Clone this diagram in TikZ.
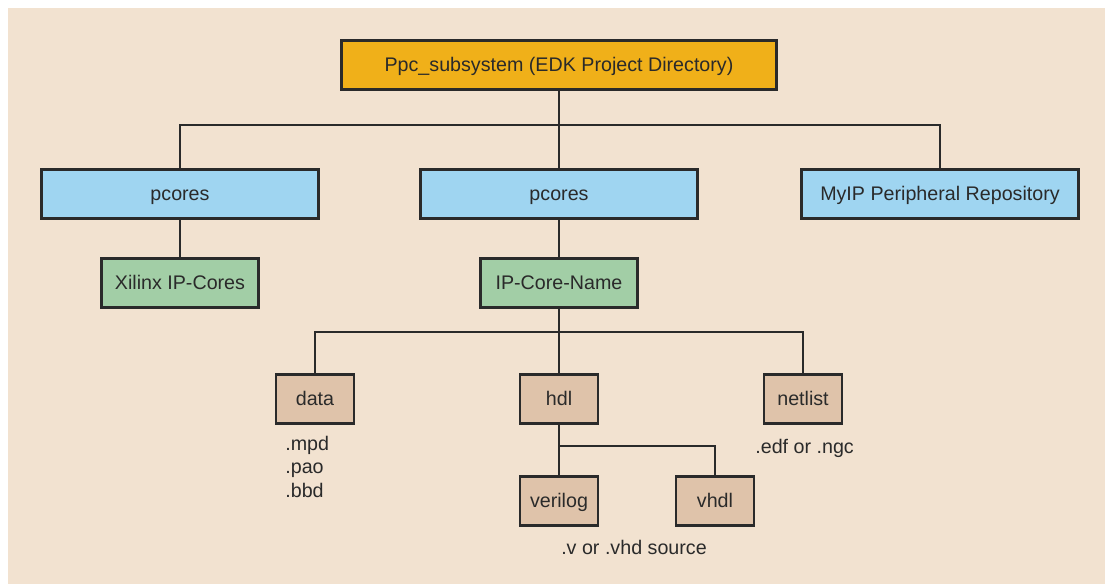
\documentclass[tikz,border=0pt]{standalone}
\usepackage{fontspec}
\setmainfont{Liberation Sans}
\definecolor{bgbeige}{HTML}{F2E2D0}
\definecolor{rootgold}{HTML}{F0B019}
\definecolor{dirblue}{HTML}{9FD5F1}
\definecolor{coregreen}{HTML}{A2CEA6}
\definecolor{filetan}{HTML}{DFC3AA}
\definecolor{inkgray}{HTML}{2A2A2A}
\tikzset{
    dirbox/.style={draw=inkgray,line width=1.5pt,text=inkgray,inner sep=0pt,
        minimum height=0.98cm,text height=7.9pt,text depth=0pt,
        font=\fontsize{11.2}{13}\selectfont},
    rootdir/.style={dirbox,fill=rootgold,minimum width=8.7cm},
    topdir/.style={dirbox,fill=dirblue,minimum width=5.55cm},
    coredir/.style={dirbox,fill=coregreen,minimum width=3.15cm},
    subdir/.style={dirbox,fill=filetan,minimum width=1.56cm},
    branch/.style={draw=inkgray,line width=1.4pt},
    extnote/.style={text=inkgray,inner sep=0pt,font=\fontsize{11.2}{13.1}\selectfont}
}
\begin{document}
\begin{tikzpicture}[x=0.02cm,y=-0.02cm]
        %% page
        \useasboundingbox (0,0) rectangle (1105,584);
        \fill[bgbeige] (8,8) rectangle (1105,584);
        %% top level
        \node[rootdir] (root) at (559,65) {Ppc\_subsystem (EDK Project Directory)};
        \node[topdir] (pcoresL) at (180,194) {pcores};
        \node[topdir] (pcoresM) at (559,194) {pcores};
        \node[topdir] (myip) at (940,194) {MyIP Peripheral Repository};
        \node[coredir] (xilinx) at (180,283) {Xilinx IP-Cores};
        \node[coredir] (ipname) at (559,283) {IP-Core-Name};
        %% core sub folders
        \node[subdir] (data) at (315,399) {data};
        \node[subdir] (hdl) at (559,399) {hdl};
        \node[subdir] (netlist) at (803,399) {netlist};
        \node[subdir] (verilog) at (559,501) {verilog};
        \node[subdir] (vhdl) at (715,501) {vhdl};
        %% file types (base = last line)
        \node[extnote,anchor=base west,align=left] (datafiles) at (285,497)
            {.mpd\\.pao\\.bbd};
        \node[extnote,anchor=base west] (netfiles) at (755,453) {.edf or .ngc};
        \node[extnote,anchor=base] (srcfiles) at (634,554) {.v or .vhd source};
        %% branches
        \coordinate (hdlsplit) at (559,446);
        \draw[branch] (root) -- (pcoresM);
        \draw[branch] (pcoresL.north) -- ++(0,-43) -| (myip.north);
        \draw[branch] (pcoresL) -- (xilinx);
        \draw[branch] (pcoresM) -- (ipname);
        \draw[branch] (data.north) -- ++(0,-41) -| (netlist.north);
        \draw[branch] (ipname) -- (hdl);
        \draw[branch] (hdl) -- (verilog);
        \draw[branch] (hdlsplit) -| (vhdl.north);
    \end{tikzpicture}
\end{document}
